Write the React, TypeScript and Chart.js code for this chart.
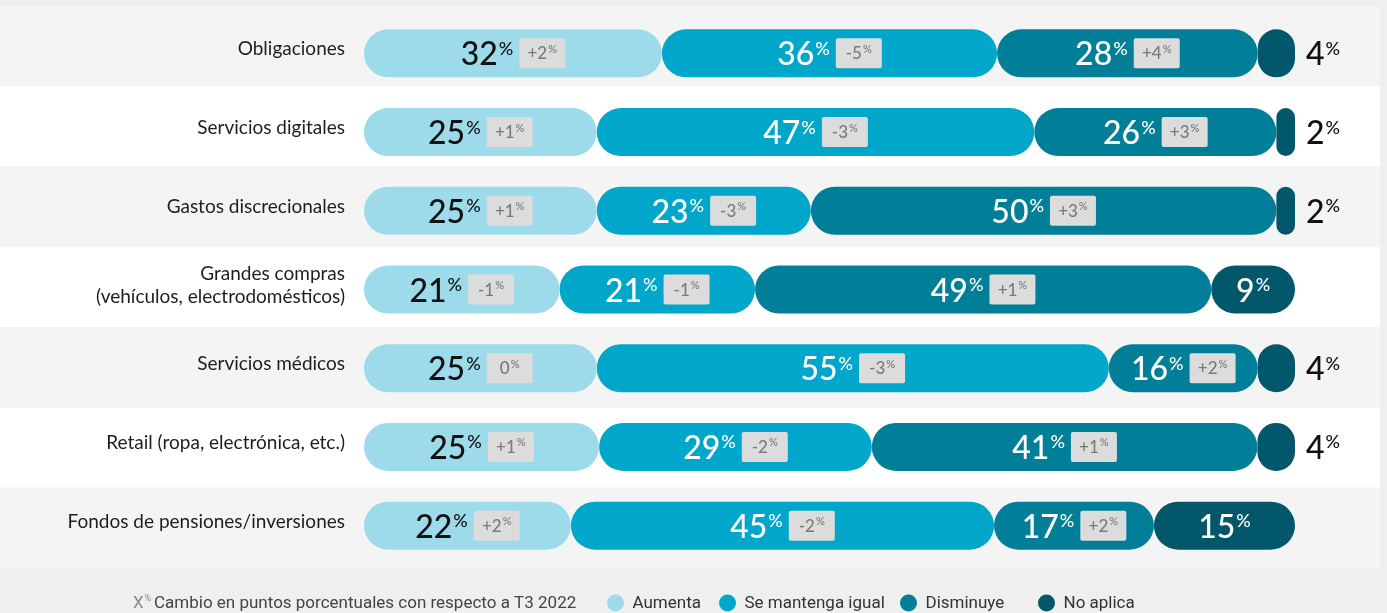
import React, { useEffect, useRef } from 'react';
import { Chart, registerables } from 'chart.js';

Chart.register(...registerables);

const categories: (string | string[])[] = [
  'Obligaciones',
  'Servicios digitales',
  'Gastos discrecionales',
  ['Grandes compras', '(vehículos, electrodomésticos)'],
  'Servicios médicos',
  'Retail (ropa, electrónica, etc.)',
  'Fondos de pensiones/inversiones',
];

const seriesNames = ['Aumenta', 'Se mantenga igual', 'Disminuye', 'No aplica'];
const seriesColors = ['#9ddbeb', '#00a7cb', '#017f99', '#03576a'];

const aumenta = [32, 25, 25, 21, 25, 25, 22];
const mantiene = [36, 47, 23, 21, 55, 29, 45];
const disminuye = [28, 26, 50, 49, 16, 41, 17];
const noAplica = [4, 2, 2, 9, 4, 4, 15];

const aumentaChg = ['+2', '+1', '+1', '-1', '0', '+1', '+2'];
const mantieneChg = ['-5', '-3', '-3', '-1', '-3', '-2', '-2'];
const disminuyeChg = ['+4', '+3', '+3', '+1', '+2', '+1', '+2'];

const legendNote = 'Cambio en puntos porcentuales con respecto a T3 2022';

const rawSeries = [aumenta, mantiene, disminuye, noAplica];
const changeSeries: (string[] | null)[] = [aumentaChg, mantieneChg, disminuyeChg, null];

const rowTotals = categories.map((_, i) => rawSeries.reduce((s, arr) => s + arr[i], 0));

const FONT = 'Lato, "Open Sans", sans-serif';
const BIG = `500 32px ${FONT}`;
const SUP = `500 18px ${FONT}`;
const BADGE = `500 17px ${FONT}`;
const BADGE_SUP = `500 11px ${FONT}`;

function drawValue(ctx: CanvasRenderingContext2D, num: string, x: number, y: number, color: string) {
  ctx.font = BIG;
  const w1 = ctx.measureText(num).width;
  ctx.fillStyle = color;
  ctx.textAlign = 'left';
  ctx.textBaseline = 'alphabetic';
  ctx.fillText(num, x, y + 12);
  ctx.font = SUP;
  ctx.fillText('%', x + w1 + 1, y + 1.5);
}

function valueWidth(ctx: CanvasRenderingContext2D, num: string) {
  ctx.font = BIG;
  const w1 = ctx.measureText(num).width;
  ctx.font = SUP;
  return w1 + 1 + ctx.measureText('%').width;
}

function drawBadge(ctx: CanvasRenderingContext2D, chg: string, x: number, y: number) {
  const bw = 46, bh = 30;
  ctx.fillStyle = '#dcdcdc';
  ctx.beginPath();
  (ctx as any).roundRect(x, y - bh / 2, bw, bh, 2);
  ctx.fill();
  ctx.font = BADGE;
  const w1 = ctx.measureText(chg).width;
  ctx.font = BADGE_SUP;
  const w2 = ctx.measureText('%').width;
  const tw = w1 + 1 + w2;
  const tx = x + (bw - tw) / 2;
  ctx.fillStyle = '#7a7a7a';
  ctx.textAlign = 'left';
  ctx.textBaseline = 'alphabetic';
  ctx.font = BADGE;
  ctx.fillText(chg, tx, y + 6);
  ctx.font = BADGE_SUP;
  ctx.fillText('%', tx + w1 + 1, y - 0.5);
}

const bgPlugin = {
  id: 'bands',
  beforeDraw(chart: any) {
    const { ctx, width, height, chartArea } = chart;
    ctx.save();
    ctx.fillStyle = '#efefef';
    ctx.fillRect(0, 0, width, height);
    const n = categories.length;
    const top0 = 6;
    const bottomN = chartArea.bottom + 3;
    const h = (bottomN - top0) / n;
    for (let i = 0; i < n; i++) {
      ctx.fillStyle = i % 2 === 0 ? '#f4f4f4' : '#ffffff';
      ctx.fillRect(0, top0 + i * h, 1380, h);
    }
    ctx.restore();
  },
};

const labelPlugin = {
  id: 'segLabels',
  afterDatasetsDraw(chart: any) {
    const ctx: CanvasRenderingContext2D = chart.ctx;
    ctx.save();
    chart.data.datasets.forEach((_: any, di: number) => {
      const meta = chart.getDatasetMeta(di);
      meta.data.forEach((el: any, i: number) => {
        const { x, base, y } = el.getProps(['x', 'base', 'y'], true);
        const left = Math.min(x, base);
        const right = Math.max(x, base);
        const center = (left + right) / 2;
        const num = String(rawSeries[di][i]);
        const chg = changeSeries[di] ? changeSeries[di]![i] : null;
        if (di === 3) {
          if (rawSeries[di][i] <= 4) {
            drawValue(ctx, num, right + 11, y, '#111111');
          } else {
            const w = valueWidth(ctx, num);
            drawValue(ctx, num, center - w / 2, y, '#ffffff');
          }
          return;
        }
        const color = di === 0 ? '#111111' : '#ffffff';
        const vw = valueWidth(ctx, num);
        const gw = vw + 6 + 46;
        const sx = center - gw / 2;
        drawValue(ctx, num, sx, y, color);
        if (chg) drawBadge(ctx, chg, sx + vw + 6, y);
      });
    });
    ctx.restore();
  },
};

const legendPlugin = {
  id: 'customLegend',
  afterDraw(chart: any) {
    const ctx: CanvasRenderingContext2D = chart.ctx;
    const y = 603;
    ctx.save();
    ctx.textBaseline = 'middle';
    ctx.textAlign = 'left';
    ctx.font = `400 17px Roboto, sans-serif`;
    ctx.fillStyle = '#8a8a8a';
    ctx.fillText('X', 133, y + 1);
    const xw = ctx.measureText('X').width;
    ctx.font = `400 9px Roboto, sans-serif`;
    ctx.fillText('%', 133 + xw + 1, y - 4);
    ctx.font = `400 17px Roboto, sans-serif`;
    ctx.fillStyle = '#444444';
    ctx.fillText(legendNote, 154, y + 1);
    const dots = [615.5, 727.5, 908.5, 1046.5];
    seriesNames.forEach((name, k) => {
      ctx.fillStyle = seriesColors[k];
      ctx.beginPath();
      ctx.arc(dots[k], y, 8.5, 0, Math.PI * 2);
      ctx.fill();
      ctx.fillStyle = '#333333';
      ctx.fillText(name, dots[k] + 17, y + 1);
    });
    ctx.restore();
  },
};

export default function App() {
  const ref = useRef<HTMLCanvasElement>(null);
  useEffect(() => {
    document.body.style.margin = '0';
    const canvas = ref.current!;
    const R = 24;
    const chart = new Chart(canvas, {
      type: 'bar',
      data: {
        labels: categories as any,
        datasets: rawSeries.map((arr, k) => ({
          label: seriesNames[k],
          data: arr.map((v, i) => (v / rowTotals[i]) * 100),
          backgroundColor: seriesColors[k],
          borderRadius: { topLeft: R, topRight: R, bottomLeft: R, bottomRight: R },
          borderSkipped: false,
          barThickness: 48,
          inflateAmount: 0,
        })),
      },
      options: {
        indexAxis: 'y',
        responsive: false,
        animation: false,
        events: [],
        layout: { padding: { top: 14, bottom: 48, right: 92, left: 0 } },
        scales: {
          x: { stacked: true, min: 0, max: 100, display: false },
          y: {
            stacked: true,
            grid: { display: false, drawTicks: false },
            border: { display: false },
            ticks: {
              padding: 19,
              labelOffset: -4,
              color: '#1e1e1e',
              font: { family: FONT, size: 19 },
            },
            afterFit: (s: any) => {
              s.width = 364;
              s.paddingTop = 0;
              s.paddingBottom = 0;
            },
          },
        },
        plugins: { legend: { display: false }, tooltip: { enabled: false } },
      } as any,
      plugins: [bgPlugin, labelPlugin, legendPlugin],
    });
    return () => chart.destroy();
  }, []);
  return <canvas ref={ref} width={1387} height={613} style={{ display: 'block', width: 1387, height: 613 }} />;
}
